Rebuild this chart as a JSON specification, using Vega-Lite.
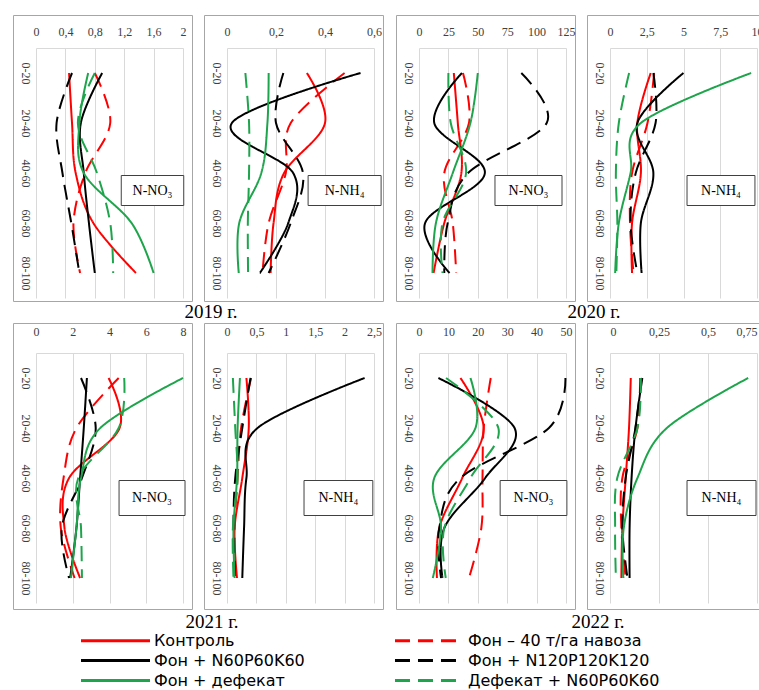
{
  "$schema": "https://vega.github.io/schema/vega-lite/v6.json",
  "padding": {"left": 12, "top": 14, "right": 0, "bottom": 0},
  "background": "white",
  "config": {
    "view": {"stroke": "#a6a6a6", "strokeWidth": 1},
    "axis": {"labelFont": "Liberation Serif", "labelFontSize": 12, "labelColor": "#404040", "gridColor": "#d9d9d9", "domainColor": "#d9d9d9", "ticks": false, "title": null, "labelFlush": false, "labelOverlap": false, "tickCount": 12},
    "title": {"font": "Liberation Serif", "fontSize": 19, "fontWeight": "normal", "color": "black", "orient": "bottom", "anchor": "middle", "offset": 1}
  },
  "resolve": {"scale": {"color": "shared", "strokeDash": "shared"}, "legend": {"color": "shared", "strokeDash": "shared"}},
  "datasets": {
    "d": [
      {"p": 1, "t": "Контроль", "depth": 10, "v": 0.45}, {"p": 1, "t": "Контроль", "depth": 30, "v": 0.49}, {"p": 1, "t": "Контроль", "depth": 50, "v": 0.54}, {"p": 1, "t": "Контроль", "depth": 70, "v": 0.78}, {"p": 1, "t": "Контроль", "depth": 90, "v": 1.36},
      {"p": 1, "t": "Фон – 40 т/га навоза", "depth": 10, "v": 0.80}, {"p": 1, "t": "Фон – 40 т/га навоза", "depth": 30, "v": 1.01}, {"p": 1, "t": "Фон – 40 т/га навоза", "depth": 50, "v": 0.67}, {"p": 1, "t": "Фон – 40 т/га навоза", "depth": 70, "v": 0.51}, {"p": 1, "t": "Фон – 40 т/га навоза", "depth": 90, "v": 0.60},
      {"p": 1, "t": "Фон + N60P60K60", "depth": 10, "v": 0.90}, {"p": 1, "t": "Фон + N60P60K60", "depth": 30, "v": 0.61}, {"p": 1, "t": "Фон + N60P60K60", "depth": 50, "v": 0.65}, {"p": 1, "t": "Фон + N60P60K60", "depth": 70, "v": 0.72}, {"p": 1, "t": "Фон + N60P60K60", "depth": 90, "v": 0.80},
      {"p": 1, "t": "Фон + N120P120K120", "depth": 10, "v": 0.49}, {"p": 1, "t": "Фон + N120P120K120", "depth": 30, "v": 0.28}, {"p": 1, "t": "Фон + N120P120K120", "depth": 50, "v": 0.36}, {"p": 1, "t": "Фон + N120P120K120", "depth": 70, "v": 0.48}, {"p": 1, "t": "Фон + N120P120K120", "depth": 90, "v": 0.59},
      {"p": 1, "t": "Фон + дефекат", "depth": 10, "v": 0.71}, {"p": 1, "t": "Фон + дефекат", "depth": 30, "v": 0.59}, {"p": 1, "t": "Фон + дефекат", "depth": 50, "v": 0.65}, {"p": 1, "t": "Фон + дефекат", "depth": 70, "v": 1.30}, {"p": 1, "t": "Фон + дефекат", "depth": 90, "v": 1.60},
      {"p": 1, "t": "Дефекат + N60P60K60", "depth": 10, "v": 0.80}, {"p": 1, "t": "Дефекат + N60P60K60", "depth": 30, "v": 0.57}, {"p": 1, "t": "Дефекат + N60P60K60", "depth": 50, "v": 0.83}, {"p": 1, "t": "Дефекат + N60P60K60", "depth": 70, "v": 1.01}, {"p": 1, "t": "Дефекат + N60P60K60", "depth": 90, "v": 1.05},

      {"p": 2, "t": "Контроль", "depth": 10, "v": 0.326}, {"p": 2, "t": "Контроль", "depth": 30, "v": 0.40}, {"p": 2, "t": "Контроль", "depth": 50, "v": 0.233}, {"p": 2, "t": "Контроль", "depth": 70, "v": 0.19}, {"p": 2, "t": "Контроль", "depth": 90, "v": 0.178},
      {"p": 2, "t": "Фон – 40 т/га навоза", "depth": 10, "v": 0.48}, {"p": 2, "t": "Фон – 40 т/га навоза", "depth": 30, "v": 0.26}, {"p": 2, "t": "Фон – 40 т/га навоза", "depth": 50, "v": 0.24}, {"p": 2, "t": "Фон – 40 т/га навоза", "depth": 70, "v": 0.17}, {"p": 2, "t": "Фон – 40 т/га навоза", "depth": 90, "v": 0.145},
      {"p": 2, "t": "Фон + N60P60K60", "depth": 10, "v": 0.545}, {"p": 2, "t": "Фон + N60P60K60", "depth": 30, "v": 0.02}, {"p": 2, "t": "Фон + N60P60K60", "depth": 50, "v": 0.27}, {"p": 2, "t": "Фон + N60P60K60", "depth": 70, "v": 0.25}, {"p": 2, "t": "Фон + N60P60K60", "depth": 90, "v": 0.134},
      {"p": 2, "t": "Фон + N120P120K120", "depth": 10, "v": 0.23}, {"p": 2, "t": "Фон + N120P120K120", "depth": 30, "v": 0.20}, {"p": 2, "t": "Фон + N120P120K120", "depth": 50, "v": 0.31}, {"p": 2, "t": "Фон + N120P120K120", "depth": 70, "v": 0.26}, {"p": 2, "t": "Фон + N120P120K120", "depth": 90, "v": 0.17},
      {"p": 2, "t": "Фон + дефекат", "depth": 10, "v": 0.17}, {"p": 2, "t": "Фон + дефекат", "depth": 30, "v": 0.165}, {"p": 2, "t": "Фон + дефекат", "depth": 50, "v": 0.14}, {"p": 2, "t": "Фон + дефекат", "depth": 70, "v": 0.05}, {"p": 2, "t": "Фон + дефекат", "depth": 90, "v": 0.048},
      {"p": 2, "t": "Дефекат + N60P60K60", "depth": 10, "v": 0.075}, {"p": 2, "t": "Дефекат + N60P60K60", "depth": 30, "v": 0.09}, {"p": 2, "t": "Дефекат + N60P60K60", "depth": 50, "v": 0.09}, {"p": 2, "t": "Дефекат + N60P60K60", "depth": 70, "v": 0.085}, {"p": 2, "t": "Дефекат + N60P60K60", "depth": 90, "v": 0.086},

      {"p": 3, "t": "Контроль", "depth": 10, "v": 29.6}, {"p": 3, "t": "Контроль", "depth": 30, "v": 33}, {"p": 3, "t": "Контроль", "depth": 50, "v": 36}, {"p": 3, "t": "Контроль", "depth": 70, "v": 21.5}, {"p": 3, "t": "Контроль", "depth": 90, "v": 12.4},
      {"p": 3, "t": "Фон – 40 т/га навоза", "depth": 10, "v": 37.4}, {"p": 3, "t": "Фон – 40 т/га навоза", "depth": 30, "v": 42.5}, {"p": 3, "t": "Фон – 40 т/га навоза", "depth": 50, "v": 21.5}, {"p": 3, "t": "Фон – 40 т/га навоза", "depth": 70, "v": 28.7}, {"p": 3, "t": "Фон – 40 т/га навоза", "depth": 90, "v": 31.6},
      {"p": 3, "t": "Фон + N60P60K60", "depth": 10, "v": 36.5}, {"p": 3, "t": "Фон + N60P60K60", "depth": 30, "v": 13}, {"p": 3, "t": "Фон + N60P60K60", "depth": 50, "v": 56}, {"p": 3, "t": "Фон + N60P60K60", "depth": 70, "v": 5.2}, {"p": 3, "t": "Фон + N60P60K60", "depth": 90, "v": 26},
      {"p": 3, "t": "Фон + N120P120K120", "depth": 10, "v": 87}, {"p": 3, "t": "Фон + N120P120K120", "depth": 30, "v": 108.6}, {"p": 3, "t": "Фон + N120P120K120", "depth": 50, "v": 41.7}, {"p": 3, "t": "Фон + N120P120K120", "depth": 70, "v": 24.4}, {"p": 3, "t": "Фон + N120P120K120", "depth": 90, "v": 21.5},
      {"p": 3, "t": "Фон + дефекат", "depth": 10, "v": 50}, {"p": 3, "t": "Фон + дефекат", "depth": 30, "v": 43.7}, {"p": 3, "t": "Фон + дефекат", "depth": 50, "v": 28.7}, {"p": 3, "t": "Фон + дефекат", "depth": 70, "v": 14.4}, {"p": 3, "t": "Фон + дефекат", "depth": 90, "v": 11.5},
      {"p": 3, "t": "Дефекат + N60P60K60", "depth": 10, "v": 25}, {"p": 3, "t": "Дефекат + N60P60K60", "depth": 30, "v": 27}, {"p": 3, "t": "Дефекат + N60P60K60", "depth": 50, "v": 40}, {"p": 3, "t": "Дефекат + N60P60K60", "depth": 70, "v": 20}, {"p": 3, "t": "Дефекат + N60P60K60", "depth": 90, "v": 20},

      {"p": 4, "t": "Контроль", "depth": 10, "v": 2.77}, {"p": 4, "t": "Контроль", "depth": 30, "v": 1.86}, {"p": 4, "t": "Контроль", "depth": 50, "v": 2.1}, {"p": 4, "t": "Контроль", "depth": 70, "v": 1.5}, {"p": 4, "t": "Контроль", "depth": 90, "v": 1.5},
      {"p": 4, "t": "Фон – 40 т/га навоза", "depth": 10, "v": 3.0}, {"p": 4, "t": "Фон – 40 т/га навоза", "depth": 30, "v": 2.55}, {"p": 4, "t": "Фон – 40 т/га навоза", "depth": 50, "v": 1.5}, {"p": 4, "t": "Фон – 40 т/га навоза", "depth": 70, "v": 1.36}, {"p": 4, "t": "Фон – 40 т/га навоза", "depth": 90, "v": 1.6},
      {"p": 4, "t": "Фон + N60P60K60", "depth": 10, "v": 5.0}, {"p": 4, "t": "Фон + N60P60K60", "depth": 30, "v": 1.86}, {"p": 4, "t": "Фон + N60P60K60", "depth": 50, "v": 2.95}, {"p": 4, "t": "Фон + N60P60K60", "depth": 70, "v": 2.1}, {"p": 4, "t": "Фон + N60P60K60", "depth": 90, "v": 2.15},
      {"p": 4, "t": "Фон + N120P120K120", "depth": 10, "v": 2.95}, {"p": 4, "t": "Фон + N120P120K120", "depth": 30, "v": 3.1}, {"p": 4, "t": "Фон + N120P120K120", "depth": 50, "v": 1.75}, {"p": 4, "t": "Фон + N120P120K120", "depth": 70, "v": 1.4}, {"p": 4, "t": "Фон + N120P120K120", "depth": 90, "v": 1.86},
      {"p": 4, "t": "Фон + дефекат", "depth": 10, "v": 9.6}, {"p": 4, "t": "Фон + дефекат", "depth": 30, "v": 2.1}, {"p": 4, "t": "Фон + дефекат", "depth": 50, "v": 1.4}, {"p": 4, "t": "Фон + дефекат", "depth": 70, "v": 0.6}, {"p": 4, "t": "Фон + дефекат", "depth": 90, "v": 0.35},
      {"p": 4, "t": "Дефекат + N60P60K60", "depth": 10, "v": 1.3}, {"p": 4, "t": "Дефекат + N60P60K60", "depth": 30, "v": 0.6}, {"p": 4, "t": "Дефекат + N60P60K60", "depth": 50, "v": 0.4}, {"p": 4, "t": "Дефекат + N60P60K60", "depth": 70, "v": 0.5}, {"p": 4, "t": "Дефекат + N60P60K60", "depth": 90, "v": 0.43},

      {"p": 5, "t": "Контроль", "depth": 10, "v": 3.95}, {"p": 5, "t": "Контроль", "depth": 30, "v": 4.55}, {"p": 5, "t": "Контроль", "depth": 50, "v": 1.8}, {"p": 5, "t": "Контроль", "depth": 70, "v": 1.55}, {"p": 5, "t": "Контроль", "depth": 90, "v": 2.4},
      {"p": 5, "t": "Фон – 40 т/га навоза", "depth": 10, "v": 4.5}, {"p": 5, "t": "Фон – 40 т/га навоза", "depth": 30, "v": 2.2}, {"p": 5, "t": "Фон – 40 т/га навоза", "depth": 50, "v": 1.5}, {"p": 5, "t": "Фон – 40 т/га навоза", "depth": 70, "v": 1.35}, {"p": 5, "t": "Фон – 40 т/га навоза", "depth": 90, "v": 2.1},
      {"p": 5, "t": "Фон + N60P60K60", "depth": 10, "v": 2.77}, {"p": 5, "t": "Фон + N60P60K60", "depth": 30, "v": 2.6}, {"p": 5, "t": "Фон + N60P60K60", "depth": 50, "v": 2.4}, {"p": 5, "t": "Фон + N60P60K60", "depth": 70, "v": 2.2}, {"p": 5, "t": "Фон + N60P60K60", "depth": 90, "v": 1.86},
      {"p": 5, "t": "Фон + N120P120K120", "depth": 10, "v": 2.45}, {"p": 5, "t": "Фон + N120P120K120", "depth": 30, "v": 3.25}, {"p": 5, "t": "Фон + N120P120K120", "depth": 50, "v": 2.5}, {"p": 5, "t": "Фон + N120P120K120", "depth": 70, "v": 1.4}, {"p": 5, "t": "Фон + N120P120K120", "depth": 90, "v": 1.8},
      {"p": 5, "t": "Фон + дефекат", "depth": 10, "v": 8.0}, {"p": 5, "t": "Фон + дефекат", "depth": 30, "v": 3.5}, {"p": 5, "t": "Фон + дефекат", "depth": 50, "v": 2.45}, {"p": 5, "t": "Фон + дефекат", "depth": 70, "v": 2.2}, {"p": 5, "t": "Фон + дефекат", "depth": 90, "v": 1.9},
      {"p": 5, "t": "Дефекат + N60P60K60", "depth": 10, "v": 4.8}, {"p": 5, "t": "Дефекат + N60P60K60", "depth": 30, "v": 4.5}, {"p": 5, "t": "Дефекат + N60P60K60", "depth": 50, "v": 2.3}, {"p": 5, "t": "Дефекат + N60P60K60", "depth": 70, "v": 2.45}, {"p": 5, "t": "Дефекат + N60P60K60", "depth": 90, "v": 2.5},

      {"p": 6, "t": "Контроль", "depth": 10, "v": 0.33}, {"p": 6, "t": "Контроль", "depth": 30, "v": 0.37}, {"p": 6, "t": "Контроль", "depth": 50, "v": 0.26}, {"p": 6, "t": "Контроль", "depth": 70, "v": 0.13}, {"p": 6, "t": "Контроль", "depth": 90, "v": 0.17},
      {"p": 6, "t": "Фон – 40 т/га навоза", "depth": 10, "v": 0.41}, {"p": 6, "t": "Фон – 40 т/га навоза", "depth": 30, "v": 0.24}, {"p": 6, "t": "Фон – 40 т/га навоза", "depth": 50, "v": 0.18}, {"p": 6, "t": "Фон – 40 т/га навоза", "depth": 70, "v": 0.13}, {"p": 6, "t": "Фон – 40 т/га навоза", "depth": 90, "v": 0.14},
      {"p": 6, "t": "Фон + N60P60K60", "depth": 10, "v": 2.34}, {"p": 6, "t": "Фон + N60P60K60", "depth": 30, "v": 0.52}, {"p": 6, "t": "Фон + N60P60K60", "depth": 50, "v": 0.33}, {"p": 6, "t": "Фон + N60P60K60", "depth": 70, "v": 0.29}, {"p": 6, "t": "Фон + N60P60K60", "depth": 90, "v": 0.26},
      {"p": 6, "t": "Фон + N120P120K120", "depth": 10, "v": 0.40}, {"p": 6, "t": "Фон + N120P120K120", "depth": 30, "v": 0.26}, {"p": 6, "t": "Фон + N120P120K120", "depth": 50, "v": 0.14}, {"p": 6, "t": "Фон + N120P120K120", "depth": 70, "v": 0.11}, {"p": 6, "t": "Фон + N120P120K120", "depth": 90, "v": 0.14},
      {"p": 6, "t": "Фон + дефекат", "depth": 10, "v": 0.22}, {"p": 6, "t": "Фон + дефекат", "depth": 30, "v": 0.18}, {"p": 6, "t": "Фон + дефекат", "depth": 50, "v": 0.17}, {"p": 6, "t": "Фон + дефекат", "depth": 70, "v": 0.11}, {"p": 6, "t": "Фон + дефекат", "depth": 90, "v": 0.13},
      {"p": 6, "t": "Дефекат + N60P60K60", "depth": 10, "v": 0.10}, {"p": 6, "t": "Дефекат + N60P60K60", "depth": 30, "v": 0.14}, {"p": 6, "t": "Дефекат + N60P60K60", "depth": 50, "v": 0.18}, {"p": 6, "t": "Дефекат + N60P60K60", "depth": 70, "v": 0.10}, {"p": 6, "t": "Дефекат + N60P60K60", "depth": 90, "v": 0.11},

      {"p": 7, "t": "Контроль", "depth": 10, "v": 14.1}, {"p": 7, "t": "Контроль", "depth": 30, "v": 22}, {"p": 7, "t": "Контроль", "depth": 50, "v": 14.7}, {"p": 7, "t": "Контроль", "depth": 70, "v": 6.9}, {"p": 7, "t": "Контроль", "depth": 90, "v": 6.1},
      {"p": 7, "t": "Фон – 40 т/га навоза", "depth": 10, "v": 24.4}, {"p": 7, "t": "Фон – 40 т/га навоза", "depth": 30, "v": 22}, {"p": 7, "t": "Фон – 40 т/га навоза", "depth": 50, "v": 21.6}, {"p": 7, "t": "Фон – 40 т/га навоза", "depth": 70, "v": 21.2}, {"p": 7, "t": "Фон – 40 т/га навоза", "depth": 90, "v": 17},
      {"p": 7, "t": "Фон + N60P60K60", "depth": 10, "v": 6.6}, {"p": 7, "t": "Фон + N60P60K60", "depth": 30, "v": 32.5}, {"p": 7, "t": "Фон + N60P60K60", "depth": 50, "v": 22.5}, {"p": 7, "t": "Фон + N60P60K60", "depth": 70, "v": 8.6}, {"p": 7, "t": "Фон + N60P60K60", "depth": 90, "v": 8.0},
      {"p": 7, "t": "Фон + N120P120K120", "depth": 10, "v": 49.8}, {"p": 7, "t": "Фон + N120P120K120", "depth": 30, "v": 44.2}, {"p": 7, "t": "Фон + N120P120K120", "depth": 50, "v": 14.1}, {"p": 7, "t": "Фон + N120P120K120", "depth": 70, "v": 6.9}, {"p": 7, "t": "Фон + N120P120K120", "depth": 90, "v": 7.5},
      {"p": 7, "t": "Фон + дефекат", "depth": 10, "v": 17.5}, {"p": 7, "t": "Фон + дефекат", "depth": 30, "v": 19.2}, {"p": 7, "t": "Фон + дефекат", "depth": 50, "v": 5.2}, {"p": 7, "t": "Фон + дефекат", "depth": 70, "v": 7.5}, {"p": 7, "t": "Фон + дефекат", "depth": 90, "v": 4.7},
      {"p": 7, "t": "Дефекат + N60P60K60", "depth": 10, "v": 9.2}, {"p": 7, "t": "Дефекат + N60P60K60", "depth": 30, "v": 27}, {"p": 7, "t": "Дефекат + N60P60K60", "depth": 50, "v": 17.5}, {"p": 7, "t": "Дефекат + N60P60K60", "depth": 70, "v": 8.6}, {"p": 7, "t": "Дефекат + N60P60K60", "depth": 90, "v": 9.1},

      {"p": 8, "t": "Контроль", "depth": 10, "v": 0.106}, {"p": 8, "t": "Контроль", "depth": 30, "v": 0.097}, {"p": 8, "t": "Контроль", "depth": 50, "v": 0.08}, {"p": 8, "t": "Контроль", "depth": 70, "v": 0.063}, {"p": 8, "t": "Контроль", "depth": 90, "v": 0.058},
      {"p": 8, "t": "Фон – 40 т/га навоза", "depth": 10, "v": 0.153}, {"p": 8, "t": "Фон – 40 т/га навоза", "depth": 30, "v": 0.14}, {"p": 8, "t": "Фон – 40 т/га навоза", "depth": 50, "v": 0.063}, {"p": 8, "t": "Фон – 40 т/га навоза", "depth": 70, "v": 0.058}, {"p": 8, "t": "Фон – 40 т/га навоза", "depth": 90, "v": 0.08},
      {"p": 8, "t": "Фон + N60P60K60", "depth": 10, "v": 0.165}, {"p": 8, "t": "Фон + N60P60K60", "depth": 30, "v": 0.13}, {"p": 8, "t": "Фон + N60P60K60", "depth": 50, "v": 0.11}, {"p": 8, "t": "Фон + N60P60K60", "depth": 70, "v": 0.10}, {"p": 8, "t": "Фон + N60P60K60", "depth": 90, "v": 0.10},
      {"p": 8, "t": "Фон + N120P120K120", "depth": 10, "v": 0.16}, {"p": 8, "t": "Фон + N120P120K120", "depth": 30, "v": 0.13}, {"p": 8, "t": "Фон + N120P120K120", "depth": 50, "v": 0.08}, {"p": 8, "t": "Фон + N120P120K120", "depth": 70, "v": 0.063}, {"p": 8, "t": "Фон + N120P120K120", "depth": 90, "v": 0.089},
      {"p": 8, "t": "Фон + дефекат", "depth": 10, "v": 0.705}, {"p": 8, "t": "Фон + дефекат", "depth": 30, "v": 0.29}, {"p": 8, "t": "Фон + дефекат", "depth": 50, "v": 0.14}, {"p": 8, "t": "Фон + дефекат", "depth": 70, "v": 0.07}, {"p": 8, "t": "Фон + дефекат", "depth": 90, "v": 0.068},
      {"p": 8, "t": "Дефекат + N60P60K60", "depth": 10, "v": 0.157}, {"p": 8, "t": "Дефекат + N60P60K60", "depth": 30, "v": 0.14}, {"p": 8, "t": "Дефекат + N60P60K60", "depth": 50, "v": 0.037}, {"p": 8, "t": "Дефекат + N60P60K60", "depth": 70, "v": 0.026}, {"p": 8, "t": "Дефекат + N60P60K60", "depth": 90, "v": 0.03}
    ]
  },
  "spacing": 0,
  "vconcat": [
    {
      "spacing": 11,
      "hconcat": [
        {
          "title": {"text": "2019 г.", "dx": 13},
          "spacing": 10,
          "hconcat": [
            {
              "width": 179, "height": 286,
              "layer": [
                {"data": {"name": "d"}, "transform": [{"filter": "datum.p == 1"}],
                 "mark": {"type": "line", "interpolate": "cardinal", "strokeWidth": 2},
                 "encoding": {
                   "x": {"field": "v", "type": "quantitative", "scale": {"domain": [0, 2], "range": [23, 170], "nice": false}, "axis": {"orient": "top", "offset": -33, "values": [0, 0.4, 0.8, 1.2, 1.6, 2], "tickCount": 12, "labelExpr": "replace(toString(datum.value), '.', ',')", "labelOverlap": false, "labelPadding": 10, "grid": true, "domain": true}},
                   "y": {"field": "depth", "type": "quantitative", "scale": {"domain": [0, 100], "range": [33, 283], "nice": false}, "axis": {"orient": "left", "offset": -23, "values": [10, 30, 50, 70, 90], "labelExpr": "(datum.value - 10) + '-' + (datum.value + 10)", "labelOverlap": false, "labelAngle": 90, "labelAlign": "center", "labelBaseline": "top", "labelPadding": 6, "grid": false, "domain": false}},
                   "color": {"field": "t", "type": "nominal", "scale": {"domain": ["Контроль", "Фон – 40 т/га навоза", "Фон + N60P60K60", "Фон + N120P120K120", "Фон + дефекат", "Дефекат + N60P60K60"], "range": ["#ff0000", "#ff0000", "#000000", "#000000", "#1ea54c", "#1ea54c"]},
                     "legend": {"orient": "none", "legendX": 68, "legendY": 614, "direction": "horizontal", "columns": 2, "columnPadding": 83, "rowPadding": 0, "symbolType": "M-3.5,0H3.5", "symbolSize": 389, "symbolOffset": 23, "symbolStrokeWidth": 3, "labelFont": "DejaVu Sans", "labelFontSize": 16, "labelColor": "black", "labelOffset": 27, "labelLimit": 0, "title": null}},
                   "strokeDash": {"field": "t", "type": "nominal", "scale": {"domain": ["Контроль", "Фон – 40 т/га навоза", "Фон + N60P60K60", "Фон + N120P120K120", "Фон + дефекат", "Дефекат + N60P60K60"], "range": [[1, 0], [15, 8], [1, 0], [15, 8], [1, 0], [15, 8]]}},
                   "order": {"field": "depth", "type": "quantitative"}
                 }},
                {"data": {"values": [{}]}, "mark": {"type": "rect", "fill": "white", "stroke": "#404040", "strokeWidth": 1}, "encoding": {"x": {"datum": 1.16}, "x2": {"datum": 2.01}, "y": {"datum": 51}, "y2": {"datum": 63}}},
                {"data": {"values": [{}]}, "mark": {"type": "text", "font": "Liberation Serif", "fontSize": 14, "color": "black"}, "encoding": {"x": {"datum": 1.585}, "y": {"datum": 57}, "text": {"value": "N-NO₃"}}}
              ]
            },
            {
              "width": 179, "height": 286,
              "layer": [
                {"data": {"name": "d"}, "transform": [{"filter": "datum.p == 2"}],
                 "mark": {"type": "line", "interpolate": "cardinal", "strokeWidth": 2},
                 "encoding": {
                   "x": {"field": "v", "type": "quantitative", "scale": {"domain": [0, 0.6], "range": [23, 170], "nice": false}, "axis": {"orient": "top", "offset": -33, "values": [0, 0.2, 0.4, 0.6], "tickCount": 12, "labelExpr": "replace(toString(datum.value), '.', ',')", "labelOverlap": false, "labelPadding": 10, "grid": true, "domain": true}},
                   "y": {"field": "depth", "type": "quantitative", "scale": {"domain": [0, 100], "range": [33, 283], "nice": false}, "axis": {"orient": "left", "offset": -23, "values": [10, 30, 50, 70, 90], "labelExpr": "(datum.value - 10) + '-' + (datum.value + 10)", "labelOverlap": false, "labelAngle": 90, "labelAlign": "center", "labelBaseline": "top", "labelPadding": 6, "grid": false, "domain": false}},
                   "color": {"field": "t", "type": "nominal"},
                   "strokeDash": {"field": "t", "type": "nominal"},
                   "order": {"field": "depth", "type": "quantitative"}
                 }},
                {"data": {"values": [{}]}, "mark": {"type": "rect", "fill": "white", "stroke": "#404040", "strokeWidth": 1}, "encoding": {"x": {"datum": 0.331}, "x2": {"datum": 0.629}, "y": {"datum": 51}, "y2": {"datum": 63}}},
                {"data": {"values": [{}]}, "mark": {"type": "text", "font": "Liberation Serif", "fontSize": 14, "color": "black"}, "encoding": {"x": {"datum": 0.48}, "y": {"datum": 57}, "text": {"value": "N-NH₄"}}}
              ]
            }
          ]
        },
        {
          "title": {"text": "2020 г.", "dx": 13},
          "spacing": 10,
          "hconcat": [
            {
              "width": 179, "height": 286,
              "layer": [
                {"data": {"name": "d"}, "transform": [{"filter": "datum.p == 3"}],
                 "mark": {"type": "line", "interpolate": "cardinal", "strokeWidth": 2},
                 "encoding": {
                   "x": {"field": "v", "type": "quantitative", "scale": {"domain": [0, 125], "range": [23, 170], "nice": false}, "axis": {"orient": "top", "offset": -33, "values": [0, 25, 50, 75, 100, 125], "tickCount": 12, "labelExpr": "replace(toString(datum.value), '.', ',')", "labelOverlap": false, "labelPadding": 10, "grid": true, "domain": true}},
                   "y": {"field": "depth", "type": "quantitative", "scale": {"domain": [0, 100], "range": [33, 283], "nice": false}, "axis": {"orient": "left", "offset": -23, "values": [10, 30, 50, 70, 90], "labelExpr": "(datum.value - 10) + '-' + (datum.value + 10)", "labelOverlap": false, "labelAngle": 90, "labelAlign": "center", "labelBaseline": "top", "labelPadding": 6, "grid": false, "domain": false}},
                   "color": {"field": "t", "type": "nominal"},
                   "strokeDash": {"field": "t", "type": "nominal"},
                   "order": {"field": "depth", "type": "quantitative"}
                 }},
                {"data": {"values": [{}]}, "mark": {"type": "rect", "fill": "white", "stroke": "#404040", "strokeWidth": 1}, "encoding": {"x": {"datum": 64.6}, "x2": {"datum": 121.6}, "y": {"datum": 51}, "y2": {"datum": 63}}},
                {"data": {"values": [{}]}, "mark": {"type": "text", "font": "Liberation Serif", "fontSize": 14, "color": "black"}, "encoding": {"x": {"datum": 93.1}, "y": {"datum": 57}, "text": {"value": "N-NO₃"}}}
              ]
            },
            {
              "width": 179, "height": 286,
              "layer": [
                {"data": {"name": "d"}, "transform": [{"filter": "datum.p == 4"}],
                 "mark": {"type": "line", "interpolate": "cardinal", "strokeWidth": 2},
                 "encoding": {
                   "x": {"field": "v", "type": "quantitative", "scale": {"domain": [0, 10], "range": [23, 170], "nice": false}, "axis": {"orient": "top", "offset": -33, "values": [0, 2.5, 5, 7.5, 10], "tickCount": 12, "labelExpr": "replace(toString(datum.value), '.', ',')", "labelOverlap": false, "labelPadding": 10, "grid": true, "domain": true}},
                   "y": {"field": "depth", "type": "quantitative", "scale": {"domain": [0, 100], "range": [33, 283], "nice": false}, "axis": {"orient": "left", "offset": -23, "values": [10, 30, 50, 70, 90], "labelExpr": "(datum.value - 10) + '-' + (datum.value + 10)", "labelOverlap": false, "labelAngle": 90, "labelAlign": "center", "labelBaseline": "top", "labelPadding": 6, "grid": false, "domain": false}},
                   "color": {"field": "t", "type": "nominal"},
                   "strokeDash": {"field": "t", "type": "nominal"},
                   "order": {"field": "depth", "type": "quantitative"}
                 }},
                {"data": {"values": [{}]}, "mark": {"type": "rect", "fill": "white", "stroke": "#404040", "strokeWidth": 1}, "encoding": {"x": {"datum": 5.24}, "x2": {"datum": 9.86}, "y": {"datum": 51}, "y2": {"datum": 63}}},
                {"data": {"values": [{}]}, "mark": {"type": "text", "font": "Liberation Serif", "fontSize": 14, "color": "black"}, "encoding": {"x": {"datum": 7.55}, "y": {"datum": 57}, "text": {"value": "N-NH₄"}}}
              ]
            }
          ]
        }
      ]
    },
    {
      "spacing": 11,
      "hconcat": [
        {
          "title": {"text": "2021 г.", "dx": 14, "offset": 3},
          "spacing": 10,
          "hconcat": [
            {
              "width": 179, "height": 286,
              "layer": [
                {"data": {"name": "d"}, "transform": [{"filter": "datum.p == 5"}],
                 "mark": {"type": "line", "interpolate": "cardinal", "strokeWidth": 2},
                 "encoding": {
                   "x": {"field": "v", "type": "quantitative", "scale": {"domain": [0, 8], "range": [23, 170], "nice": false}, "axis": {"orient": "top", "offset": -30, "values": [0, 2, 4, 6, 8], "tickCount": 12, "labelExpr": "replace(toString(datum.value), '.', ',')", "labelOverlap": false, "labelPadding": 15, "grid": true, "domain": true}},
                   "y": {"field": "depth", "type": "quantitative", "scale": {"domain": [0, 100], "range": [30, 280], "nice": false}, "axis": {"orient": "left", "offset": -23, "values": [10, 30, 50, 70, 90], "labelExpr": "(datum.value - 10) + '-' + (datum.value + 10)", "labelOverlap": false, "labelAngle": 90, "labelAlign": "center", "labelBaseline": "top", "labelPadding": 6, "grid": false, "domain": false}},
                   "color": {"field": "t", "type": "nominal"},
                   "strokeDash": {"field": "t", "type": "nominal"},
                   "order": {"field": "depth", "type": "quantitative"}
                 }},
                {"data": {"values": [{}]}, "mark": {"type": "rect", "fill": "white", "stroke": "#404040", "strokeWidth": 1}, "encoding": {"x": {"datum": 4.52}, "x2": {"datum": 8.11}, "y": {"datum": 51}, "y2": {"datum": 65}}},
                {"data": {"values": [{}]}, "mark": {"type": "text", "font": "Liberation Serif", "fontSize": 14, "color": "black"}, "encoding": {"x": {"datum": 6.31}, "y": {"datum": 58}, "text": {"value": "N-NO₃"}}}
              ]
            },
            {
              "width": 179, "height": 286,
              "layer": [
                {"data": {"name": "d"}, "transform": [{"filter": "datum.p == 6"}],
                 "mark": {"type": "line", "interpolate": "cardinal", "strokeWidth": 2},
                 "encoding": {
                   "x": {"field": "v", "type": "quantitative", "scale": {"domain": [0, 2.5], "range": [23, 170], "nice": false}, "axis": {"orient": "top", "offset": -30, "values": [0, 0.5, 1, 1.5, 2, 2.5], "tickCount": 12, "labelExpr": "replace(toString(datum.value), '.', ',')", "labelOverlap": false, "labelPadding": 15, "grid": true, "domain": true}},
                   "y": {"field": "depth", "type": "quantitative", "scale": {"domain": [0, 100], "range": [30, 280], "nice": false}, "axis": {"orient": "left", "offset": -23, "values": [10, 30, 50, 70, 90], "labelExpr": "(datum.value - 10) + '-' + (datum.value + 10)", "labelOverlap": false, "labelAngle": 90, "labelAlign": "center", "labelBaseline": "top", "labelPadding": 6, "grid": false, "domain": false}},
                   "color": {"field": "t", "type": "nominal"},
                   "strokeDash": {"field": "t", "type": "nominal"},
                   "order": {"field": "depth", "type": "quantitative"}
                 }},
                {"data": {"values": [{}]}, "mark": {"type": "rect", "fill": "white", "stroke": "#404040", "strokeWidth": 1}, "encoding": {"x": {"datum": 1.31}, "x2": {"datum": 2.48}, "y": {"datum": 51}, "y2": {"datum": 65}}},
                {"data": {"values": [{}]}, "mark": {"type": "text", "font": "Liberation Serif", "fontSize": 14, "color": "black"}, "encoding": {"x": {"datum": 1.895}, "y": {"datum": 58}, "text": {"value": "N-NH₄"}}}
              ]
            }
          ]
        },
        {
          "title": {"text": "2022 г.", "dx": 17, "offset": 3},
          "spacing": 10,
          "hconcat": [
            {
              "width": 179, "height": 286,
              "layer": [
                {"data": {"name": "d"}, "transform": [{"filter": "datum.p == 7"}],
                 "mark": {"type": "line", "interpolate": "cardinal", "strokeWidth": 2},
                 "encoding": {
                   "x": {"field": "v", "type": "quantitative", "scale": {"domain": [0, 50], "range": [23, 170], "nice": false}, "axis": {"orient": "top", "offset": -30, "values": [0, 10, 20, 30, 40, 50], "tickCount": 12, "labelExpr": "replace(toString(datum.value), '.', ',')", "labelOverlap": false, "labelPadding": 15, "grid": true, "domain": true}},
                   "y": {"field": "depth", "type": "quantitative", "scale": {"domain": [0, 100], "range": [30, 280], "nice": false}, "axis": {"orient": "left", "offset": -23, "values": [10, 30, 50, 70, 90], "labelExpr": "(datum.value - 10) + '-' + (datum.value + 10)", "labelOverlap": false, "labelAngle": 90, "labelAlign": "center", "labelBaseline": "top", "labelPadding": 6, "grid": false, "domain": false}},
                   "color": {"field": "t", "type": "nominal"},
                   "strokeDash": {"field": "t", "type": "nominal"},
                   "order": {"field": "depth", "type": "quantitative"}
                 }},
                {"data": {"values": [{}]}, "mark": {"type": "rect", "fill": "white", "stroke": "#404040", "strokeWidth": 1}, "encoding": {"x": {"datum": 27.6}, "x2": {"datum": 50.3}, "y": {"datum": 51}, "y2": {"datum": 65}}},
                {"data": {"values": [{}]}, "mark": {"type": "text", "font": "Liberation Serif", "fontSize": 14, "color": "black"}, "encoding": {"x": {"datum": 38.95}, "y": {"datum": 58}, "text": {"value": "N-NO₃"}}}
              ]
            },
            {
              "width": 179, "height": 286,
              "layer": [
                {"data": {"name": "d"}, "transform": [{"filter": "datum.p == 8"}],
                 "mark": {"type": "line", "interpolate": "cardinal", "strokeWidth": 2},
                 "encoding": {
                   "x": {"field": "v", "type": "quantitative", "scale": {"domain": [0, 0.75], "range": [23, 170], "nice": false}, "axis": {"orient": "top", "offset": -30, "values": [0, 0.25, 0.5, 0.75], "tickCount": 12, "labelExpr": "replace(toString(datum.value), '.', ',')", "labelOverlap": false, "labelFlush": true, "labelPadding": 15, "grid": true, "domain": true}},
                   "y": {"field": "depth", "type": "quantitative", "scale": {"domain": [0, 100], "range": [30, 280], "nice": false}, "axis": {"orient": "left", "offset": -23, "values": [10, 30, 50, 70, 90], "labelExpr": "(datum.value - 10) + '-' + (datum.value + 10)", "labelOverlap": false, "labelAngle": 90, "labelAlign": "center", "labelBaseline": "top", "labelPadding": 6, "grid": false, "domain": false}},
                   "color": {"field": "t", "type": "nominal"},
                   "strokeDash": {"field": "t", "type": "nominal"},
                   "order": {"field": "depth", "type": "quantitative"}
                 }},
                {"data": {"values": [{}]}, "mark": {"type": "rect", "fill": "white", "stroke": "#404040", "strokeWidth": 1}, "encoding": {"x": {"datum": 0.393}, "x2": {"datum": 0.745}, "y": {"datum": 51}, "y2": {"datum": 65}}},
                {"data": {"values": [{}]}, "mark": {"type": "text", "font": "Liberation Serif", "fontSize": 14, "color": "black"}, "encoding": {"x": {"datum": 0.569}, "y": {"datum": 58}, "text": {"value": "N-NH₄"}}}
              ]
            }
          ]
        }
      ]
    }
  ]
}
